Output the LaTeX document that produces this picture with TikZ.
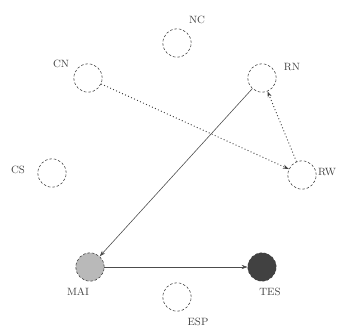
\documentclass[tikz,border=0pt]{standalone}
\usepackage{tikz}
\usetikzlibrary{arrows.meta,positioning}
\definecolor{maigray}{RGB}{185, 185, 185}
\definecolor{tesgray}{RGB}{65, 65, 65}

\begin{document}
\begin{tikzpicture}[x=0.03cm, y=-0.03cm, >={Stealth[length=5pt,width=3.5pt]},
    state/.style={circle, draw=black!75, dash pattern=on 2.2pt off 1.6pt, line width=0.5pt, minimum size=0.85cm, inner sep=0pt},
    tag/.style={font=\small, text=black!75, inner sep=1pt},
    link/.style={->, line width=0.5pt, black!70},
    dotlink/.style={->, line width=0.8pt, black!75, dotted}]
    % Frame
    \useasboundingbox (0,0) rectangle (341,329);

    % States
    \node[state] (nc) at (177,43) {};
    \node[state] (cn) at (88,78) {};
    \node[state] (rn) at (262,78) {};
    \node[state] (cs) at (52,173) {};
    \node[state] (rw) at (302,175) {};
    \node[state, fill=maigray] (mai) at (90,267) {};
    \node[state, fill=tesgray] (tes) at (262,267) {};
    \node[state] (esp) at (177,297) {};

    % Labels
    \node[tag] at (197,20) {NC};
    \node[tag] at (61,64) {CN};
    \node[tag] at (292,67) {RN};
    \node[tag] at (18,170) {CS};
    \node[tag] at (327,172) {RW};
    \node[tag] at (78,292) {MAI};
    \node[tag] at (270,292) {TES};
    \node[tag] at (198,322) {ESP};

    % Transitions
    \draw[dotlink] (cn) -- (rw);
    \draw[dotlink] (rw) -- (rn);
    \draw[link] (rn) -- (mai);
    \draw[link] (mai) -- (tes);
\end{tikzpicture}
\end{document}
